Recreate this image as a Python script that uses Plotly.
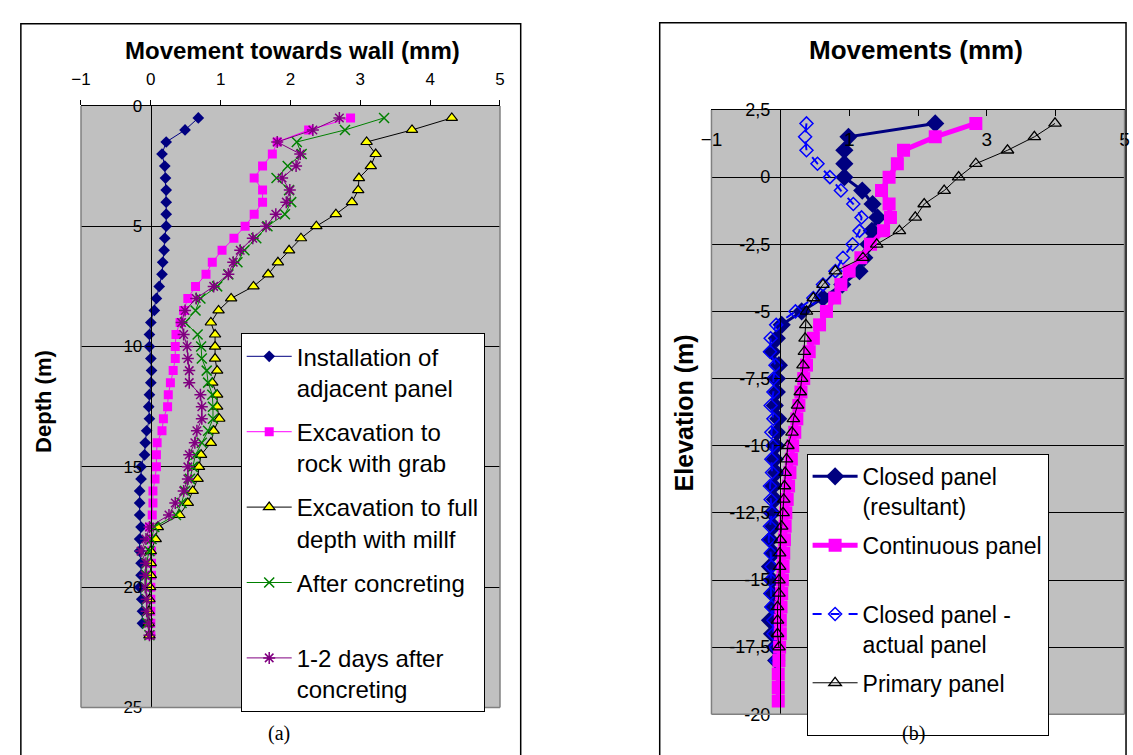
import plotly.graph_objects as go

# ---------------- data: chart (a) ----------------
depth = [0.5, 1.0, 1.5, 2.0, 2.5, 3.0, 3.5, 4.0, 4.5, 5.0, 5.5, 6.0, 6.5, 7.0, 7.5,
         8.0, 8.5, 9.0, 9.5, 10.0, 10.5, 11.0, 11.5, 12.0, 12.5, 13.0, 13.5, 14.0,
         14.5, 15.0, 15.5, 16.0, 16.5, 17.0, 17.5, 18.0, 18.5, 19.0, 19.5, 20.0,
         20.5, 21.0, 21.5, 22.0]

install_adjacent = [0.68, 0.49, 0.22, 0.16, 0.20, 0.21, 0.22, 0.22, 0.22, 0.22, 0.20, 0.19,
                    0.17, 0.16, 0.12, 0.08, 0.05, 0.00, -0.02, -0.02, 0.00, 0.01, 0.00,
                    -0.02, -0.03, -0.02, -0.06, -0.08, -0.09, -0.14, -0.14, -0.16, -0.16,
                    -0.16, -0.14, -0.16, -0.16, -0.14, -0.14, -0.16, -0.13, -0.12, -0.12]

exc_rock_grab = [2.86, 2.26, 1.81, 1.74, 1.60, 1.48, 1.60, 1.60, 1.48, 1.35, 1.19, 1.02,
                 0.88, 0.79, 0.64, 0.53, 0.47, 0.42, 0.36, 0.35, 0.35, 0.32, 0.28, 0.25,
                 0.24, 0.18, 0.16, 0.09, 0.08, 0.08, 0.06, 0.03, 0.03, 0.02, -0.02, 0.00,
                 0.01, 0.01, 0.01, 0.00, 0.00, 0.00, 0.00, 0.00]

exc_full_depth = [4.31, 3.74, 3.09, 3.22, 3.15, 2.98, 2.97, 2.88, 2.65, 2.37, 2.15, 1.98,
                  1.82, 1.68, 1.47, 1.15, 0.97, 0.86, 0.92, 0.92, 0.92, 0.95, 0.88, 0.95,
                  0.95, 0.98, 0.90, 0.86, 0.72, 0.69, 0.67, 0.60, 0.53, 0.41, 0.10, 0.07,
                  0.00, 0.00, 0.00, -0.01, -0.02, -0.03, -0.03, -0.02]

after_concreting = [3.34, 2.78, 2.09, 2.16, 1.96, 1.80, 1.98, 2.01, 1.92, 1.67, 1.51, 1.34,
                    1.24, 1.11, 0.95, 0.71, 0.64, 0.49, 0.67, 0.72, 0.73, 0.80, 0.82, 0.88,
                    0.89, 0.89, 0.82, 0.73, 0.64, 0.60, 0.56, 0.49, 0.44, 0.36, 0.05, 0.01,
                    -0.02, -0.06, -0.06, -0.07, -0.06, -0.06, -0.05, -0.02]

days_after = [2.70, 2.32, 1.81, 2.14, 2.08, 1.88, 1.99, 1.94, 1.79, 1.65, 1.46, 1.28,
              1.18, 1.11, 0.90, 0.65, 0.49, 0.44, 0.47, 0.52, 0.53, 0.55, 0.55, 0.71,
              0.73, 0.73, 0.66, 0.63, 0.55, 0.53, 0.53, 0.47, 0.35, 0.26, -0.02, -0.07,
              -0.14, -0.07, -0.08, -0.08, -0.06, -0.06, -0.03, -0.02]

# ---------------- data: chart (b) ----------------
elevation = [2.0, 1.5, 1.0, 0.5, 0.0, -0.5, -1.0, -1.5, -2.0, -2.5, -3.0, -3.5, -4.0,
             -4.5, -5.0, -5.5, -6.0, -6.5, -7.0, -7.5, -8.0, -8.5, -9.0, -9.5, -10.0,
             -10.5, -11.0, -11.5, -12.0, -12.5, -13.0, -13.5, -14.0, -14.5, -15.0,
             -15.5, -16.0, -16.5, -17.0, -17.5, -18.0, -18.5, -19.0, -19.5]

closed_resultant = [2.25, 0.99, 0.93, 0.93, 0.93, 1.19, 1.34, 1.41, 1.33, 1.28, 1.22, 1.15,
                    0.90, 0.62, 0.31, 0.02, -0.05, -0.12, -0.02, -0.05, -0.05, -0.08, -0.03,
                    -0.05, -0.06, -0.08, -0.06, -0.10, -0.08, -0.12, -0.10, -0.15, -0.10,
                    -0.15, -0.12, -0.12, -0.10, -0.15, -0.12, -0.08, -0.06]

continuous_panel = [2.84, 2.25, 1.79, 1.70, 1.58, 1.47, 1.58, 1.60, 1.50, 1.31, 1.17, 1.00,
                    0.88, 0.79, 0.67, 0.57, 0.48, 0.42, 0.38, 0.34, 0.30, 0.27, 0.24, 0.21,
                    0.18, 0.16, 0.14, 0.12, 0.10, 0.08, 0.07, 0.06, 0.05, 0.04, 0.03, 0.02,
                    0.01, 0.00, 0.00, -0.01, -0.02, -0.03, -0.03, -0.03]

closed_actual = [0.38, 0.36, 0.38, 0.54, 0.72, 0.88, 1.06, 1.18, 1.15, 1.05, 0.91, 0.80,
                 0.62, 0.48, 0.22, -0.06, -0.14, -0.15, -0.07, -0.10, -0.10, -0.14, -0.10,
                 -0.13, -0.11, -0.13, -0.12, -0.15, -0.14, -0.12, -0.15, -0.17, -0.14,
                 -0.13, -0.14, -0.14, -0.13, -0.10, -0.10, -0.07, -0.06]

primary_panel = [3.99, 3.69, 3.30, 2.84, 2.59, 2.38, 2.09, 1.96, 1.73, 1.40, 1.20, 0.80,
                 0.62, 0.48, 0.38, 0.37, 0.36, 0.35, 0.33, 0.31, 0.29, 0.25, 0.19, 0.17,
                 0.11, 0.09, 0.07, 0.06, 0.05, 0.04, 0.02, 0.00, -0.01, -0.01, -0.02,
                 -0.02, -0.04, -0.04, -0.04, -0.02]

x_ticks = [-1, 0, 1, 2, 3, 4, 5]
x_label_ticks_b = [-1, 1, 3, 5]
depth_ticks = [0, 5, 10, 15, 20, 25]
elev_ticks = [2.5, 0, -2.5, -5, -7.5, -10, -12.5, -15, -17.5, -20]
elev_tick_text = ["2,5", "0", "-2,5", "-5", "-7,5", "-10", "-12,5", "-15", "-17,5", "-20"]

# ---------------- layout geometry (pixels -> paper) ----------------
W, H = 1133, 755
def px(x):
    return x / W
def py(y):
    return 1 - y / H

FONT = "Arial, Liberation Sans, sans-serif"
SERIF = "Liberation Serif, Times New Roman, serif"
GRAY = "#C0C0C0"

LX0, LX1, LY0, LY1 = 71, 496, 98.5, 716.5
RX0, RX1, RY0, RY1 = 710.5, 1129.5, 102.7, 723.5

fig = go.Figure()

# ---- chart (a) traces ----
fig.add_trace(go.Scatter(
    x=install_adjacent, y=depth[:len(install_adjacent)], name="Installation of<br>adjacent panel",
    mode="lines+markers", line=dict(color="#000080", width=1),
    marker=dict(symbol="diamond", size=9, color="#000080"),
    xaxis="x", yaxis="y", legend="legend", legendgroup="a1"))
fig.add_trace(go.Scatter(
    x=exc_rock_grab, y=depth, name="Excavation to<br>rock with grab",
    mode="lines+markers", line=dict(color="#FF00FF", width=1),
    marker=dict(symbol="square", size=9, color="#FF00FF"),
    xaxis="x", yaxis="y", legend="legend", legendgroup="a2"))
fig.add_trace(go.Scatter(
    x=exc_full_depth, y=depth, name="Excavation to full<br>depth with millf",
    mode="lines+markers", line=dict(color="#000000", width=1),
    marker=dict(symbol="triangle-up", size=10, color="#FFFF00",
                line=dict(color="#000000", width=1.2)),
    xaxis="x", yaxis="y", legend="legend", legendgroup="a3"))
fig.add_trace(go.Scatter(
    x=after_concreting, y=depth, name="After concreting<br>&nbsp;",
    mode="lines+markers", line=dict(color="#008000", width=1),
    marker=dict(symbol="x-thin-open", size=10, color="#008000",
                line=dict(color="#008000", width=1.5)),
    xaxis="x", yaxis="y", legend="legend", legendgroup="a4"))
fig.add_trace(go.Scatter(
    x=days_after, y=depth, name="1-2 days after<br>concreting",
    mode="lines+markers", line=dict(color="#800080", width=1),
    marker=dict(symbol="asterisk-open", size=10, color="#800080",
                line=dict(color="#800080", width=1.5)),
    xaxis="x", yaxis="y", legend="legend", legendgroup="a5"))

# ---- chart (b) traces (draw order: navy, actual, magenta, primary) ----
fig.add_trace(go.Scatter(
    x=closed_resultant, y=elevation[:len(closed_resultant)], name="Closed panel<br>(resultant)",
    mode="lines+markers", line=dict(color="#000080", width=3),
    marker=dict(symbol="diamond", size=14, color="#000080"),
    xaxis="x2", yaxis="y2", legend="legend2", legendgroup="b1", legendrank=1))
fig.add_trace(go.Scatter(
    x=closed_actual, y=elevation[:len(closed_actual)], name="Closed panel -<br>actual panel",
    mode="lines+markers", line=dict(color="#0000FF", width=2, dash="dash"),
    marker=dict(symbol="diamond-open", size=10, color="#0000FF",
                line=dict(color="#0000FF", width=1.5)),
    xaxis="x2", yaxis="y2", legend="legend2", legendgroup="b3", legendrank=3))
fig.add_trace(go.Scatter(
    x=continuous_panel, y=elevation, name="Continuous panel<br>&nbsp;",
    mode="lines+markers", line=dict(color="#FF00FF", width=5),
    marker=dict(symbol="square", size=13, color="#FF00FF"),
    xaxis="x2", yaxis="y2", legend="legend2", legendgroup="b2", legendrank=2))
fig.add_trace(go.Scatter(
    x=primary_panel, y=elevation[:len(primary_panel)], name="Primary panel<br>&nbsp;",
    mode="lines+markers", line=dict(color="#000000", width=1),
    marker=dict(symbol="triangle-up-open", size=11, color="#000000",
                line=dict(color="#000000", width=1.3)),
    xaxis="x2", yaxis="y2", legend="legend2", legendgroup="b4", legendrank=4))

# invisible helper trace so the label-only axis (x3) is drawn
fig.add_trace(go.Scatter(x=[None], y=[None], xaxis="x3", yaxis="y2",
                         showlegend=False, hoverinfo="skip"))

axis_font = dict(family=FONT, color="black")

fig.update_layout(
    width=W, height=H, margin=dict(l=0, r=0, t=0, b=0),
    paper_bgcolor="white", plot_bgcolor=GRAY,
    font=dict(family=FONT, color="black"),
    showlegend=True, hovermode=False,
    xaxis=dict(domain=[px(LX0), px(LX1)], range=[-1, 5], side="top", anchor="y",
               tickvals=x_ticks, ticks="outside", ticklen=5, tickcolor="black",
               showline=True, linecolor="black", linewidth=1, showgrid=False,
               zeroline=False, ticklabelstandoff=8,
               tickfont=dict(size=17, **axis_font)),
    yaxis=dict(domain=[py(LY1), py(LY0)], range=[25, 0], anchor="free",
               position=px(141.7), tickvals=depth_ticks, ticks="outside", ticklen=5,
               tickcolor="black", showline=True, linecolor="black", linewidth=1,
               showgrid=True, gridcolor="black", gridwidth=1, zeroline=False,
               tickfont=dict(size=17, **axis_font)),
    xaxis2=dict(domain=[px(RX0), px(RX1)], range=[-1, 5], side="top", anchor="y2",
                tickvals=x_ticks, ticks="inside", ticklen=6, tickcolor="black",
                showticklabels=False,
                showline=True, linecolor="black", linewidth=1, showgrid=False,
                zeroline=False),
    xaxis3=dict(domain=[px(RX0), px(RX1)], range=[-1, 5], overlaying="x2",
                anchor="free", position=py(119), side="bottom",
                tickvals=x_label_ticks_b, ticks="", showline=False, showgrid=False,
                zeroline=False, tickfont=dict(size=19, **axis_font)),
    yaxis2=dict(domain=[py(RY1), py(RY0)], range=[-20, 2.5], anchor="free",
                position=px(780), tickvals=elev_ticks, ticktext=elev_tick_text,
                ticks="outside", ticklen=6, tickcolor="black", showline=True,
                linecolor="black", linewidth=1, showgrid=True, gridcolor="black",
                gridwidth=1, zeroline=False, tickfont=dict(size=18, **axis_font)),
    legend=dict(x=px(233), y=py(332), xanchor="left", yanchor="top",
                bgcolor="white", bordercolor="black", borderwidth=1,
                font=dict(size=24, family=FONT, color="black"),
                tracegroupgap=10, valign="top", itemwidth=45),
    legend2=dict(x=px(807), y=py(456), xanchor="left", yanchor="top",
                 bgcolor="white", bordercolor="black", borderwidth=1,
                 font=dict(size=23, family=FONT, color="black"),
                 tracegroupgap=6, valign="top", itemwidth=45),
)

shapes = []
# plot-area borders (gray), left/right/bottom
for (x0, x1, y0, y1) in [(LX0, LX1, LY0, LY1), (RX0, RX1, RY0, RY1)]:
    for seg in [((x0, y0), (x0, y1)), ((x1, y0), (x1, y1)), ((x0, y1), (x1, y1))]:
        shapes.append(dict(type="line", xref="paper", yref="paper",
                           x0=px(seg[0][0]), y0=py(seg[0][1]),
                           x1=px(seg[1][0]), y1=py(seg[1][1]),
                           line=dict(color="#808080", width=1.5), layer="above"))
# outer frames
shapes.append(dict(type="rect", xref="paper", yref="paper", x0=px(10), x1=px(517),
                   y0=-0.02, y1=py(14), line=dict(color="black", width=1.5), layer="above"))
shapes.append(dict(type="rect", xref="paper", yref="paper", x0=px(658), x1=px(1131),
                   y0=-0.02, y1=py(13), line=dict(color="black", width=1.5), layer="above"))
fig.update_layout(shapes=shapes)

ann = [
    dict(text="<b>Movement towards wall (mm)</b>", x=px(286), y=py(42),
         font=dict(size=24, family=FONT, color="black")),
    dict(text="<b>Movements (mm)</b>", x=px(918), y=py(41),
         font=dict(size=26, family=FONT, color="black")),
    dict(text="<b>Depth (m)</b>", x=px(33), y=py(402), textangle=-90,
         font=dict(size=22, family=FONT, color="black")),
    dict(text="<b>Elevation (m)</b>", x=px(683), y=py(414), textangle=-90,
         font=dict(size=25, family=FONT, color="black")),
    dict(text="(a)", x=px(272), y=py(743), font=dict(size=20, family=SERIF, color="black")),
    dict(text="(b)", x=px(915), y=py(743), font=dict(size=20, family=SERIF, color="black")),
]
for a in ann:
    a.update(xref="paper", yref="paper", showarrow=False, xanchor="center", yanchor="middle")
fig.update_layout(annotations=ann)

fig.write_html(
    "out.html",
    config={"displayModeBar": False},
    post_script="document.body.style.margin='0';document.body.style.padding='0';"
                "document.body.style.overflow='hidden';"
                "document.documentElement.style.overflow='hidden';",
)
